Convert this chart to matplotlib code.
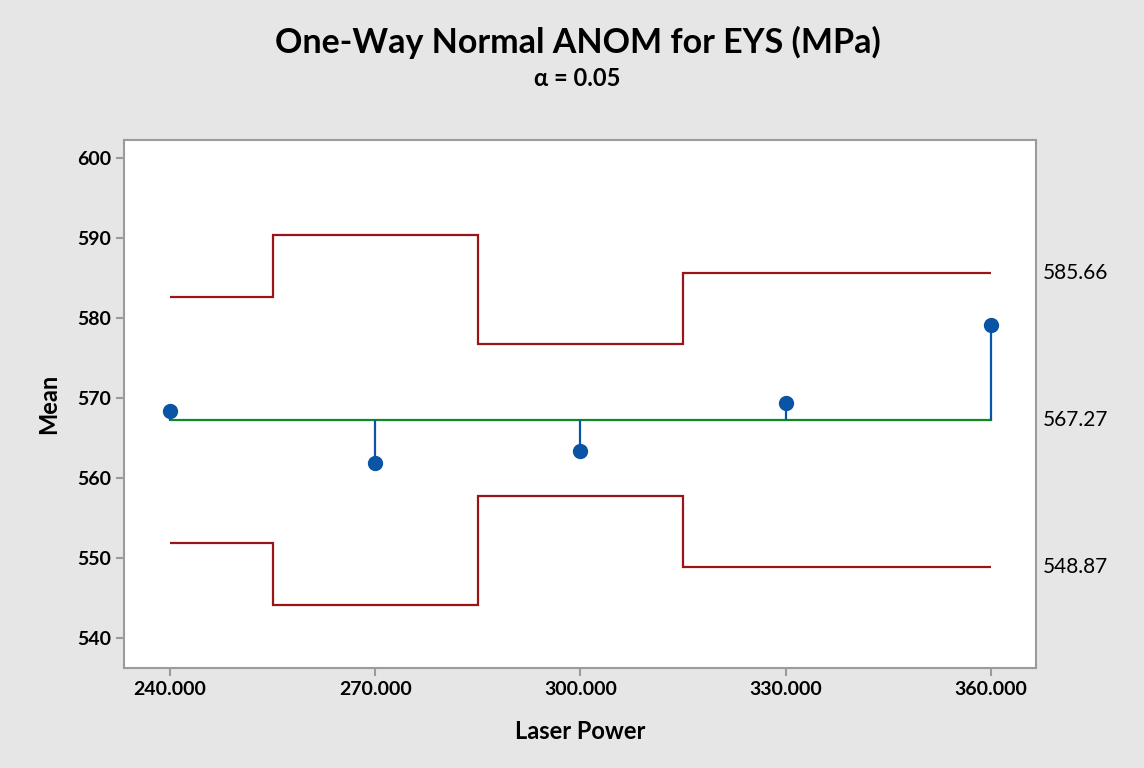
import matplotlib.pyplot as plt

plt.rcParams['font.family'] = ['Lato', 'DejaVu Sans']

# group levels and their means
levels = [240, 270, 300, 330, 360]
means = [568.4, 561.9, 563.4, 569.4, 579.1]
center = 567.27

# decision limits per group
udl = [582.67, 590.37, 576.75, 585.66, 585.66]
ldl = [551.87, 544.17, 557.80, 548.87, 548.87]

red = '#9a1515'
green = '#0c8a2c'
blue = '#0a54a5'

fig = plt.figure(figsize=(11.44, 7.68), dpi=100, facecolor='#e6e6e6')
ax = fig.add_axes([124/1144, 1 - 668/768, 912/1144, 528/768])
ax.set_facecolor('white')

# step edges halfway between levels
half = (levels[1] - levels[0]) / 2
edges = [levels[0]] + [x + half for x in levels[:-1]] + [levels[-1]]
ax.stairs(udl, edges, color=red, lw=1.6, baseline=None)
ax.stairs(ldl, edges, color=red, lw=1.6, baseline=None)

ax.plot([levels[0], levels[-1]], [center, center], color=green, lw=1.6, zorder=3)
ax.vlines(levels, center, means, color=blue, lw=1.6, zorder=3)
ax.plot(levels, means, 'o', color=blue, ms=10, zorder=4)

ax.set_xlim(233.28, 366.6)
ax.set_ylim(536.25, 602.25)
ax.set_xticks(levels)
ax.set_xticklabels([f'{x:.3f}' for x in levels])
ax.set_yticks(range(540, 601, 10))

for s in ax.spines.values():
    s.set_color('#9b9b9b')
    s.set_linewidth(1.5)
ax.tick_params(colors='#9b9b9b', width=1.5, length=6, labelcolor='black', labelsize=14)
for lbl in ax.get_xticklabels() + ax.get_yticklabels():
    lbl.set_fontweight('bold')

ax.set_xlabel('Laser Power', fontsize=17, fontweight='bold', labelpad=16)
ax.set_ylabel('Mean', fontsize=17, fontweight='bold', labelpad=12)

for v in [udl[-1], center, ldl[-1]]:
    ax.annotate(f'{v:.2f}', xy=(1, v), xycoords=('axes fraction', 'data'),
                xytext=(5, 0), textcoords='offset points', va='center',
                fontsize=15)

fig.text(0.505, 1 - 42/768, 'One-Way Normal ANOM for EYS (MPa)', ha='center',
         va='center', fontsize=24.5, fontweight='bold')
fig.text(0.505, 1 - 78/768, 'α = 0.05', ha='center', va='center',
         fontsize=17, fontweight='bold')

fig.savefig('out.png', dpi=100, facecolor=fig.get_facecolor())
